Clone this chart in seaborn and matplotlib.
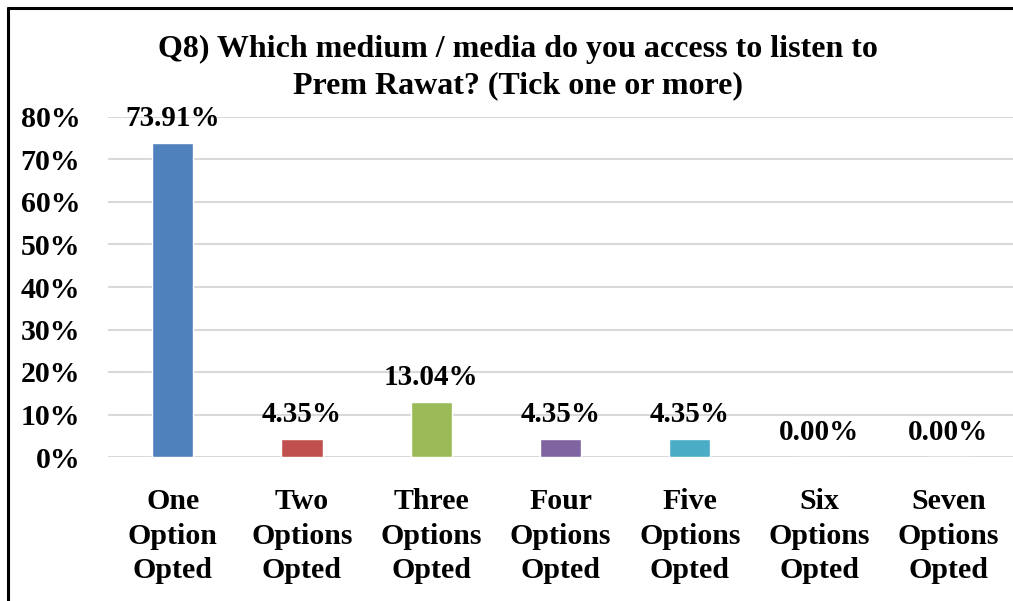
import matplotlib
matplotlib.use("Agg")
import matplotlib.pyplot as plt
import seaborn as sns
import pandas as pd
from matplotlib.lines import Line2D

categories = ["One\nOption\nOpted", "Two\nOptions\nOpted", "Three\nOptions\nOpted",
              "Four\nOptions\nOpted", "Five\nOptions\nOpted", "Six\nOptions\nOpted",
              "Seven\nOptions\nOpted"]
values = [73.91, 4.35, 13.04, 4.35, 4.35, 0.00, 0.00]
colors = ["#4F81BD", "#C0504D", "#9BBB59", "#8064A2", "#4BACC6", "#F79646", "#2C4D75"]
yticks = [0, 10, 20, 30, 40, 50, 60, 70, 80]
title = "Q8) Which medium / media do you access to listen to\nPrem Rawat? (Tick one or more)"

sns.set_theme(style="white")
plt.rcParams["font.family"] = ["Liberation Serif", "DejaVu Serif"]
plt.rcParams["font.weight"] = "bold"

df = pd.DataFrame({"cat": categories, "val": values})

fig = plt.figure(figsize=(10.13, 6.01), dpi=100)
ax = fig.add_axes([108/1013, 144/601, 1 - 108/1013, (457-117)/601])

sns.barplot(data=df, x="cat", y="val", hue="cat", palette=colors, order=categories,
            hue_order=categories, width=0.32, legend=False, ax=ax, saturation=1)

ax.set_ylim(0, 80)
ax.set_xlim(-0.5, 6.5)
ax.set_yticks(yticks)
ax.set_yticklabels([f"{t}%" for t in yticks])
ax.yaxis.grid(True, color="#d9d9d9", linewidth=1.5)
ax.set_axisbelow(True)
for s in ax.spines.values():
    s.set_visible(False)
ax.set_xlabel("")
ax.set_ylabel("")
ax.tick_params(axis="y", length=0, pad=20, labelsize=21.5)
ax.tick_params(axis="x", length=0, pad=22.5, labelsize=21.5)
for lab in ax.get_xticklabels() + ax.get_yticklabels():
    lab.set_fontweight("bold")
    lab.set_color("black")
for lab in ax.get_xticklabels():
    lab.set_linespacing(1.36)

for i, v in enumerate(values):
    ax.annotate(f"{v:.2f}%", (i, v), xytext=(0, 17.5), textcoords="offset points",
                ha="center", va="center", fontsize=21, fontweight="bold", color="black",
                annotation_clip=False)

fig.text(518/1013, 1 - 67.5/601, title, ha="center", va="center", fontsize=23,
         fontweight="bold", color="black", linespacing=1.33)

# outer border (top and left)
fig.add_artist(Line2D([8/1013, 1.0], [1 - 8/601, 1 - 8/601], color="black", linewidth=2.2,
                      transform=fig.transFigure))
fig.add_artist(Line2D([8/1013, 8/1013], [0, 1 - 8/601], color="black", linewidth=2.2,
                      transform=fig.transFigure))

fig.savefig("out.png", dpi=100)
